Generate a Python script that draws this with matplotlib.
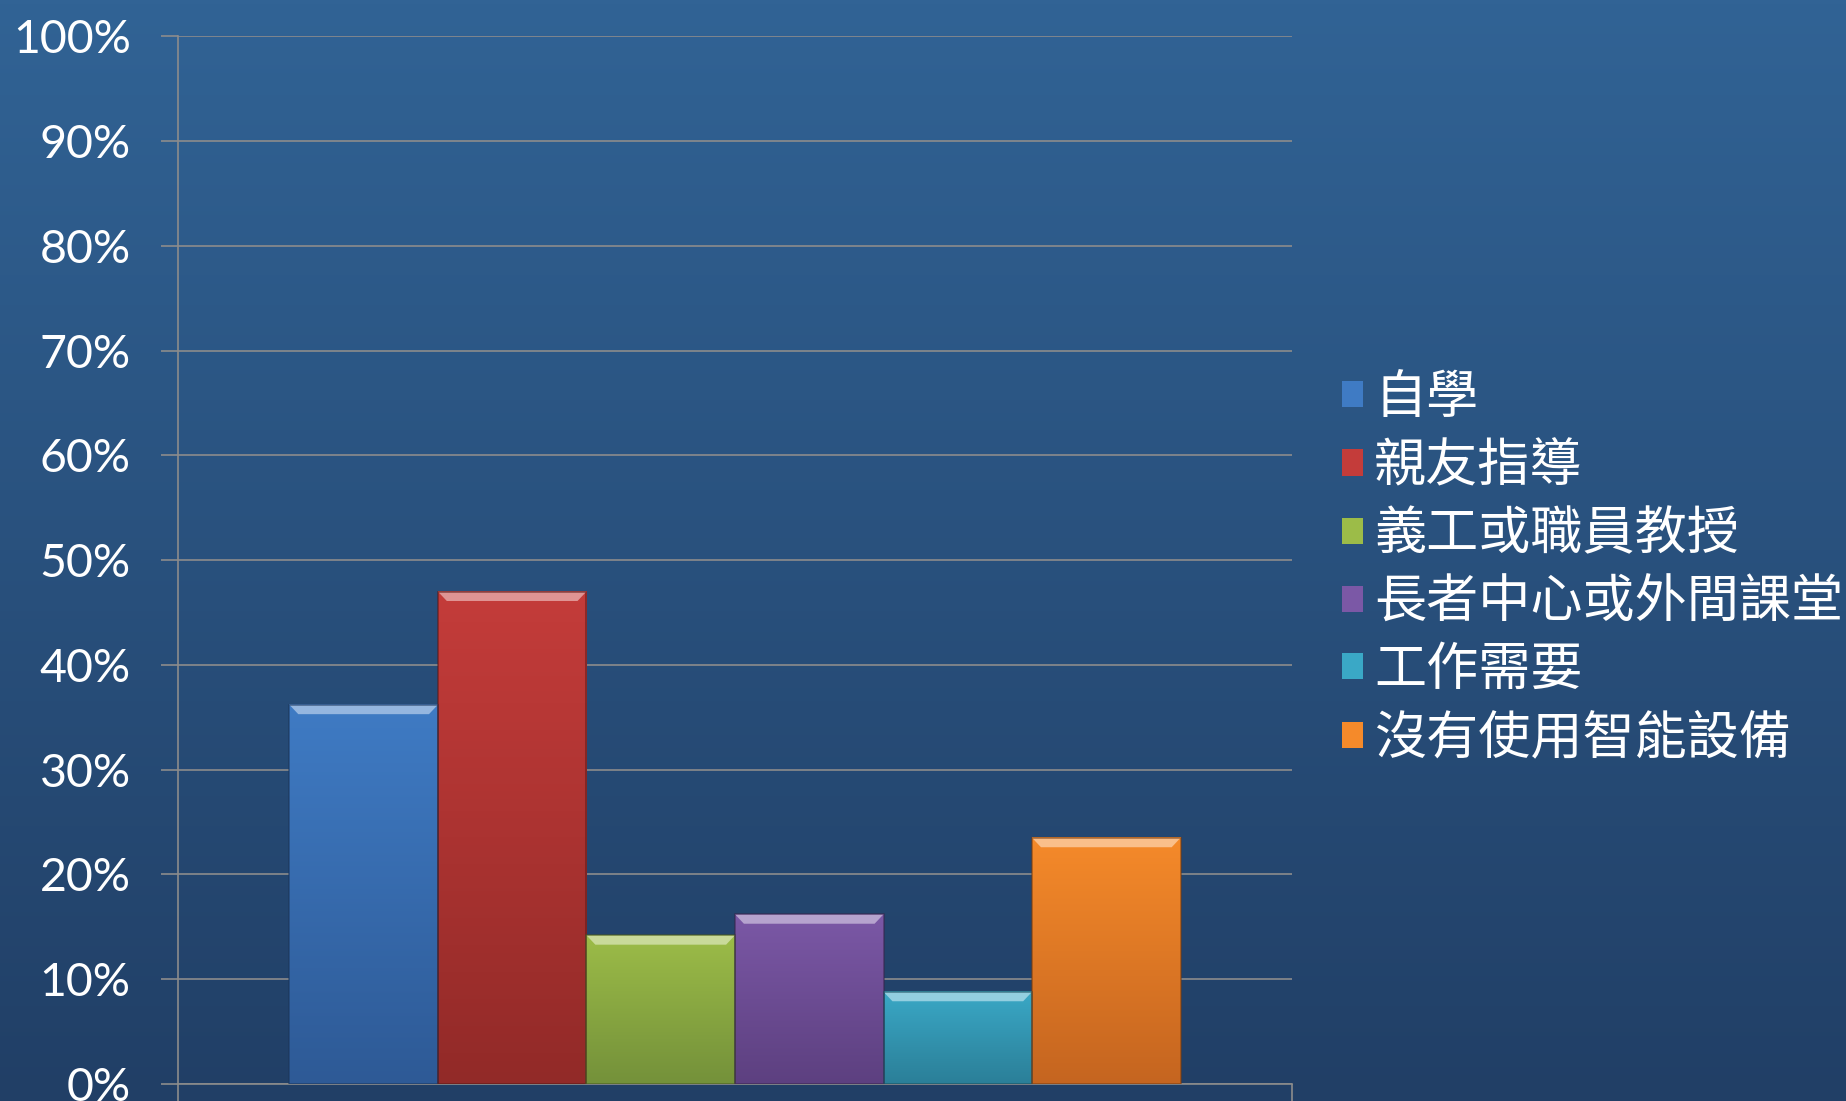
import numpy as np
import matplotlib
matplotlib.use('Agg')
import matplotlib.pyplot as plt
from matplotlib.colors import LinearSegmentedColormap, to_rgb
from matplotlib.patches import Polygon

plt.rcParams['font.family'] = ['Lato', 'Noto Sans CJK TC', 'DejaVu Sans']

labels = ['自學', '親友指導', '義工或職員教授', '長者中心或外間課堂', '工作需要', '沒有使用智能設備']
values = [0.362, 0.470, 0.142, 0.162, 0.088, 0.235]
top_colors = ['#3f7bc4', '#c43c3a', '#9cbc48', '#7b58a6', '#3aa8c6', '#f58a2a']
bottom_colors = ['#2e5a96', '#922a28', '#74913a', '#5d4080', '#2b7f98', '#c56520']
yticks = np.arange(0, 1.01, 0.1)
ytick_labels = ['%d%%' % round(v * 100) for v in yticks]

fig = plt.figure(figsize=(18.46, 11.01), dpi=100)

# background gradient
bg = fig.add_axes([0, 0, 1, 1], zorder=-10)
bg_cmap = LinearSegmentedColormap.from_list('bg', ['#316395', '#213f66'])
bg.imshow(np.linspace(0, 1, 256).reshape(-1, 1), aspect='auto', cmap=bg_cmap,
          extent=[0, 1, 0, 1])
bg.axis('off')

ax = fig.add_axes([0.0964, 0.0154, 0.6035, 0.9517])
ax.set_facecolor('none')

n = len(values)
w = 0.8 / n
x = -0.4 + w / 2 + w * np.arange(n)
bars = ax.bar(x, values, width=w, color=top_colors, edgecolor='none', zorder=3)

grad = np.linspace(0, 1, 128).reshape(-1, 1)
bev_h = 0.009
bev_w = 0.008
for b, c_top, c_bot in zip(bars, top_colors, bottom_colors):
    x0 = b.get_x()
    x1 = x0 + b.get_width()
    h = b.get_height()
    cmap = LinearSegmentedColormap.from_list('g', [c_top, c_bot])
    ax.imshow(grad, extent=[x0, x1, 0, h], aspect='auto', cmap=cmap, zorder=3.1)
    light = 0.55 * np.array(to_rgb(c_top)) + 0.45
    ax.add_patch(Polygon([[x0, h], [x1, h], [x1 - bev_w, h - bev_h], [x0 + bev_w, h - bev_h]],
                         closed=True, facecolor=light, edgecolor='none', zorder=3.2))
    dark = 0.6 * np.array(to_rgb(c_bot))
    ax.add_patch(plt.Rectangle((x0, 0), x1 - x0, h, facecolor='none', edgecolor=dark,
                               linewidth=1.2, alpha=0.6, zorder=3.3))

ax.set_xlim(-0.5, 0.5)
ax.set_ylim(0, 1)
ax.set_yticks(yticks)
ax.set_yticklabels(ytick_labels)
ax.set_xticks([-0.5, 0.5])
ax.set_xticklabels([])
ax.tick_params(axis='y', colors='#8c8c8c', labelcolor='white', labelsize=33.5,
               length=12, width=1.2, pad=22)
ax.tick_params(axis='x', colors='#8c8c8c', length=12, width=1.2)
ax.grid(axis='y', color='#8c8c8c', linewidth=1.2, zorder=1)
ax.set_axisbelow(True)
for s in ['top', 'right']:
    ax.spines[s].set_visible(False)
for s in ['left', 'bottom']:
    ax.spines[s].set_color('#8c8c8c')
    ax.spines[s].set_linewidth(1.2)

ax.legend(bars, labels, loc='upper left', bbox_to_anchor=(0.727, 0.6605),
          bbox_transform=fig.transFigure, frameon=False, fontsize=37.5,
          labelcolor='white', handlelength=0.4, handleheight=0.4,
          handletextpad=0.22, labelspacing=0.38, borderpad=0, borderaxespad=0)

fig.savefig('out.png', dpi=100)
